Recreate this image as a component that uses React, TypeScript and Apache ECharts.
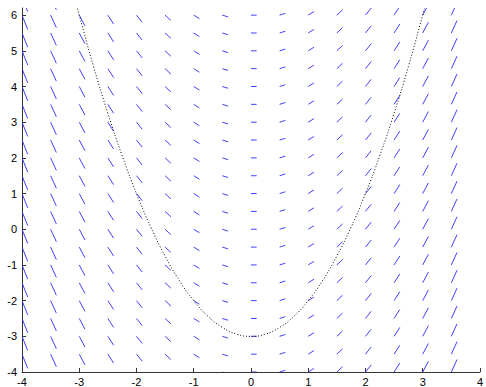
import React, { useEffect, useRef } from "react";
import * as echarts from "echarts";

// Grid of slope-field sample points
const xCols = [-4, -3.5, -3, -2.5, -2, -1.5, -1, -0.5, 0, 0.5, 1, 1.5, 2, 2.5, 3, 3.5];
const yRows = [-4, -3.5, -3, -2.5, -2, -1.5, -1, -0.5, 0, 0.5, 1, 1.5, 2, 2.5, 3, 3.5, 4, 4.5, 5, 5.5, 6, 6.5];
// slope of the drawn segments in each column
const slopeByColumn = [-4, -3.5, -3, -2.5, -2, -1.5, -1, -0.5, 0, 0.5, 1, 1.5, 2, 2.5, 3, 3.5];

// dotted solution curve
const curveX = [-3.03, -3, -2.75, -2.5, -2.25, -2, -1.75, -1.5, -1.25, -1, -0.75, -0.5, -0.25, 0, 0.25, 0.5, 0.75, 1, 1.25, 1.5, 1.75, 2, 2.25, 2.5, 2.75, 3, 3.03];
const curveY = [6.18, 6, 4.56, 3.25, 2.06, 1, 0.06, -0.75, -1.44, -2, -2.44, -2.75, -2.94, -3, -2.94, -2.75, -2.44, -2, -1.44, -0.75, 0.06, 1, 2.06, 3.25, 4.56, 6, 6.18];

const xTicks = [-4, -3, -2, -1, 0, 1, 2, 3, 4];
const yTicks = [-4, -3, -2, -1, 0, 1, 2, 3, 4, 5, 6];

const STEP = 0.1;

export default function App() {
  const ref = useRef<HTMLDivElement>(null);
  useEffect(() => {
    if (!ref.current) return;
    const chart = echarts.init(ref.current, null, { renderer: "svg" });
    const fieldData: number[][] = [];
    xCols.forEach((x, i) => {
      yRows.forEach((y) => fieldData.push([x, y, slopeByColumn[i]]));
    });
    const font = "Liberation Sans";
    chart.setOption({
      animation: false,
      backgroundColor: "#ffffff",
      grid: { left: 22, right: 0, top: 8, bottom: 15, containLabel: false },
      xAxis: {
        type: "value",
        min: xTicks[0],
        max: xTicks[xTicks.length - 1],
        interval: 1,
        axisLine: { show: true, onZero: false, lineStyle: { color: "#333", width: 1 } },
        axisTick: { show: true, inside: true, length: 4, lineStyle: { color: "#333" } },
        splitLine: { show: false },
        axisLabel: {
          color: "#000",
          fontFamily: font,
          fontSize: 11,
          margin: 4,
          formatter: (v: number) => (Number.isInteger(v) ? String(v) : ""),
        },
      },
      yAxis: {
        type: "value",
        min: yTicks[0],
        max: 6.2,
        interval: 1,
        axisLine: { show: true, onZero: false, lineStyle: { color: "#333", width: 1 } },
        axisTick: { show: true, inside: true, length: 4, lineStyle: { color: "#333" } },
        splitLine: { show: false },
        axisLabel: {
          color: "#000",
          fontFamily: font,
          fontSize: 11,
          margin: 5,
          showMaxLabel: false,
          formatter: (v: number) => (Number.isInteger(v) ? String(v) : ""),
        },
      },
      series: [
        {
          type: "custom",
          clip: true,
          silent: true,
          data: fieldData,
          encode: { x: 0, y: 1 },
          renderItem: (params: any, api: any) => {
            const x = api.value(0);
            const y = api.value(1);
            const s = api.value(2);
            const p1 = api.coord([x, y]);
            const p2 = api.coord([x + STEP, y + STEP * s]);
            return {
              type: "line",
              shape: { x1: p1[0], y1: p1[1], x2: p2[0], y2: p2[1] },
              style: { stroke: "#2a2aff", lineWidth: 0.9 },
            };
          },
        },
        {
          type: "line",
          data: curveX.map((x, i) => [x, curveY[i]]),
          smooth: true,
          showSymbol: false,
          symbol: "none",
          clip: true,
          lineStyle: { color: "#000", width: 1, type: [1, 2] },
        },
      ],
    });
    return () => chart.dispose();
  }, []);
  return (
    <div
      ref={ref}
      style={{ position: "fixed", left: 0, top: 0, width: 486, height: 387, background: "#fff" }}
    />
  );
}
